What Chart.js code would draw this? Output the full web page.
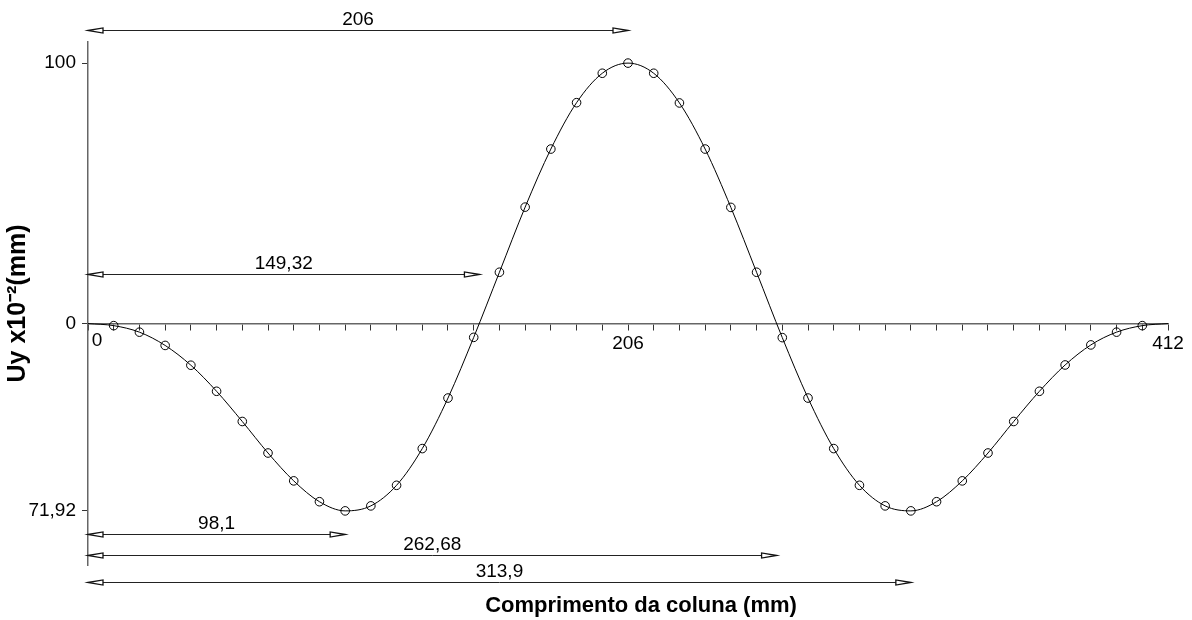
<!DOCTYPE html>
<html>
<head>
<meta charset="utf-8">
<script src="https://cdn.jsdelivr.net/npm/chart.js@4.4.1/dist/chart.umd.min.js"></script>
<style>
  html, body { margin: 0; padding: 0; background: #fff; }
</style>
</head>
<body>
<canvas id="chart-deformada" width="1192" height="620"></canvas>
<script>
// Estações ao longo da coluna (mm)
const estacoes = [
  0, 9.81, 19.62, 29.43, 39.24, 49.05, 58.86, 68.67, 78.48, 88.29,
  98.1, 107.9, 117.71, 127.52, 137.33, 147.14, 156.95, 166.76, 176.57, 186.38,
  196.19, 206, 215.81, 225.62, 235.43, 245.24, 255.05, 264.86, 274.67, 284.48,
  294.29, 304.1, 313.9, 323.71, 333.52, 343.33, 353.14, 362.95, 372.76, 382.57,
  392.38, 402.19, 412
];
// Deslocamento Uy (x10^-2 mm) em cada estação
const uy = [
  0, -0.8, -3.3, -8.4, -16.0, -26.0, -37.6, -49.7, -60.4, -68.4,
  -71.92, -70.0, -62.1, -48.0, -28.6, -5.3, 19.7, 44.7, 67.0, 84.8,
  96.1, 100, 96.1, 84.7, 67.0, 44.6, 19.7, -5.4, -28.6, -48.0,
  -62.1, -70.0, -71.92, -68.4, -60.4, -49.7, -37.6, -26.0, -15.9, -8.2,
  -3.3, -0.8, 0
];

// Rótulos dos eixos
const xRotuloValores = [0, 206, 412];
const xRotulos = ['0', '206', '412'];
const yTickValores = [-71.92, 0, 100];
const yRotulos = ['71,92', '0', '100'];

// Cotas (setas de dimensão) medidas a partir da base
const cotaValores = [206, 149.32, 98.1, 262.68, 313.9];
const cotaTextos = ['206', '149,32', '98,1', '262,68', '313,9'];
const cotaNiveis = [112.7, 19.2, -80.8, -88.9, -99.4];

const FONTE = "'Liberation Sans', Arial, sans-serif";
Chart.defaults.font.family = FONTE;
Chart.defaults.color = '#000';

function achaIndice(lista, v) {
  return lista.findIndex(t => Math.abs(t - v) < 0.01);
}

// ponta de seta fina, aberta por dentro
function seta(ctx, xPonta, yy, dir) {
  const comp = 15, meia = 2.6;
  ctx.beginPath();
  ctx.moveTo(xPonta, yy);
  ctx.lineTo(xPonta - dir * comp, yy - meia);
  ctx.lineTo(xPonta - dir * comp, yy + meia);
  ctx.closePath();
  ctx.fillStyle = '#fff';
  ctx.fill();
  ctx.lineWidth = 1.3;
  ctx.strokeStyle = '#111';
  ctx.stroke();
}

const cotasPlugin = {
  id: 'cotas',
  afterDraw(chart) {
    const { ctx, chartArea } = chart;
    const x = chart.scales.x, y = chart.scales.y;
    ctx.save();

    cotaValores.forEach((v, i) => {
      const x0 = x.getPixelForValue(0);
      const x1 = x.getPixelForValue(v);
      const yy = Math.round(y.getPixelForValue(cotaNiveis[i])) + 0.5;
      ctx.strokeStyle = '#222';
      ctx.lineWidth = 1;
      ctx.beginPath();
      ctx.moveTo(x0 + 4, yy);
      ctx.lineTo(x1 - 4, yy);
      ctx.stroke();
      seta(ctx, x0, yy, -1);
      seta(ctx, x1, yy, 1);
      ctx.fillStyle = '#000';
      ctx.font = `19px ${FONTE}`;
      ctx.textAlign = 'center';
      ctx.textBaseline = 'alphabetic';
      ctx.fillText(cotaTextos[i], (x0 + x1) / 2, yy - 6);
    });

    // rótulo "0" do eixo x, afastado do eixo vertical
    const y0 = y.getPixelForValue(0);
    ctx.font = `19px ${FONTE}`;
    ctx.textAlign = 'center';
    ctx.textBaseline = 'middle';
    ctx.fillText(xRotulos[0], x.getPixelForValue(0) + 9, y0 + 17);

    // título do eixo x
    ctx.font = `bold 22px ${FONTE}`;
    ctx.fillText('Comprimento da coluna (mm)', (chartArea.left + chartArea.right) / 2 + 13, 606);
    ctx.restore();
  }
};

new Chart(document.getElementById('chart-deformada'), {
  type: 'line',
  data: {
    datasets: [{
      data: estacoes.map((e, i) => ({ x: e, y: uy[i] })),
      borderColor: '#000',
      borderWidth: 1,
      cubicInterpolationMode: 'monotone',
      pointRadius: c => (c.dataIndex === 0 || c.dataIndex === estacoes.length - 1) ? 0 : 4.3,
      pointBorderColor: '#000',
      pointBackgroundColor: 'rgba(0,0,0,0)',
      pointBorderWidth: 1,
      clip: false,
    }],
  },
  options: {
    responsive: false,
    animation: false,
    devicePixelRatio: 1,
    layout: { padding: { left: 0, top: 42, right: 24, bottom: 55 } },
    plugins: {
      legend: { display: false },
      tooltip: { enabled: false },
    },
    scales: {
      x: {
        type: 'linear',
        min: 0,
        max: 412,
        position: { y: 0 },
        afterBuildTicks: s => { s.ticks = estacoes.map(v => ({ value: v })); },
        ticks: {
          autoSkip: false,
          maxRotation: 0,
          padding: 3,
          font: { size: 19 },
          color: '#000',
          callback: v => {
            const i = achaIndice(xRotuloValores, v);
            return i > 0 ? xRotulos[i] : '';
          },
        },
        grid: { drawOnChartArea: false, drawTicks: true, tickLength: 6, color: '#333', lineWidth: 1 },
        border: { display: true, color: '#666', width: 1.5 },
      },
      y: {
        min: -92.7,
        max: 108.1,
        position: 'left',
        afterBuildTicks: s => { s.ticks = yTickValores.map(v => ({ value: v })); },
        afterFit: s => { s.width = 88; },
        ticks: {
          padding: 6,
          font: { size: 19 },
          color: '#000',
          callback: v => {
            const i = achaIndice(yTickValores, v);
            return i >= 0 ? yRotulos[i] : '';
          },
        },
        grid: { drawOnChartArea: false, drawTicks: true, tickLength: 6, color: '#333', lineWidth: 1 },
        border: { display: true, color: '#666', width: 1.5 },
        title: {
          display: true,
          text: 'Uy x10⁻²(mm)',
          font: { size: 25, weight: 'bold' },
          color: '#000',
          padding: { top: 3, bottom: 0 },
        },
      },
    },
  },
  plugins: [cotasPlugin],
});
</script>
</body>
</html>
